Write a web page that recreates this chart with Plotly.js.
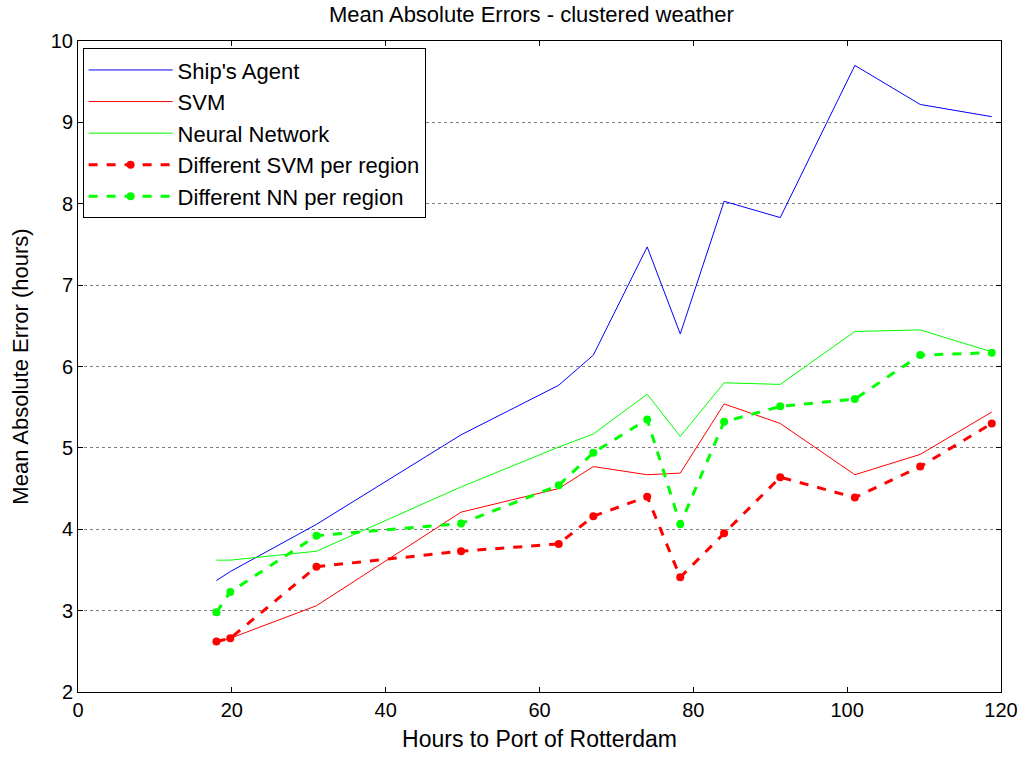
<!DOCTYPE html>
<html>
<head>
<meta charset="utf-8">
<script src="https://cdn.plot.ly/plotly-3.0.1.min.js"></script>
<style>html,body{margin:0;padding:0;background:#fff;}#chart{width:1020px;height:760px;}</style>
</head>
<body>
<div id="chart"></div>
<script>
const hours = [18.0, 19.8, 31.0, 49.8, 62.5, 67.0, 74.0, 78.3, 84.0, 91.3, 101.0, 109.5, 118.8];
const shipsAgent = [3.37, 3.48, 4.06, 5.16, 5.77, 6.14, 7.47, 6.40, 8.03, 7.83, 9.70, 9.22, 9.07];
const svm = [2.62, 2.66, 3.06, 4.21, 4.50, 4.77, 4.67, 4.69, 5.54, 5.30, 4.67, 4.92, 5.44];
const neuralNetwork = [3.62, 3.62, 3.73, 4.52, 5.01, 5.17, 5.66, 5.14, 5.80, 5.78, 6.43, 6.45, 6.18];
const svmPerRegion = [2.62, 2.66, 3.54, 3.73, 3.82, 4.16, 4.40, 3.41, 3.95, 4.64, 4.39, 4.77, 5.30];
const nnPerRegion = [2.98, 3.23, 3.92, 4.07, 4.54, 4.94, 5.35, 4.06, 5.32, 5.51, 5.60, 6.14, 6.17];
const seriesNames = ["Ship's Agent", "SVM", "Neural Network", "Different SVM per region", "Different NN per region"];
const xTicks = [0, 20, 40, 60, 80, 100, 120];
const yTicks = [2, 3, 4, 5, 6, 7, 8, 9, 10];

const FONT = 'Liberation Sans, Arial, sans-serif';
const traces = [
  {x: hours, y: shipsAgent, name: seriesNames[0], mode: 'lines', line: {color: '#0000ff', width: 1}},
  {x: hours, y: svm, name: seriesNames[1], mode: 'lines', line: {color: '#ff0000', width: 1}},
  {x: hours, y: neuralNetwork, name: seriesNames[2], mode: 'lines', line: {color: '#00ff00', width: 1}},
  {x: hours, y: svmPerRegion, name: seriesNames[3], mode: 'lines+markers', line: {color: '#ff0000', width: 3, dash: 'dash'}, marker: {color: '#ff0000', size: 8}},
  {x: hours, y: nnPerRegion, name: seriesNames[4], mode: 'lines+markers', line: {color: '#00ff00', width: 3, dash: 'dash'}, marker: {color: '#00ff00', size: 8}}
];

const axisCommon = {
  showline: true, linecolor: '#000', linewidth: 1, mirror: 'ticks',
  ticks: 'inside', ticklen: 5, tickcolor: '#000', zeroline: false,
  tickfont: {family: FONT, size: 20, color: '#000'}
};

const layout = {
  width: 1020, height: 760,
  margin: {l: 78, r: 19, t: 41, b: 68},
  paper_bgcolor: '#fff', plot_bgcolor: '#fff',
  font: {family: FONT, color: '#000'},
  title: {text: 'Mean Absolute Errors - clustered weather', font: {family: FONT, size: 22, color: '#000'}, x: 0.521, xanchor: 'center', y: 0.981, yanchor: 'middle'},
  xaxis: Object.assign({}, axisCommon, {
    range: [0, 120], tickvals: xTicks, showgrid: false,
    title: {text: 'Hours to Port of Rotterdam', font: {family: FONT, size: 23, color: '#000'}, standoff: 10}
  }),
  yaxis: Object.assign({}, axisCommon, {
    range: [2, 10], tickvals: yTicks, showgrid: true, gridcolor: '#808080', griddash: 'dot', gridwidth: 1,
    title: {text: 'Mean Absolute Error (hours)', font: {family: FONT, size: 22, color: '#000'}, standoff: 16}
  }),
  showlegend: true,
  legend: {
    x: 0.005, y: 0.989, xanchor: 'left', yanchor: 'top',
    bgcolor: '#fff', bordercolor: '#000', borderwidth: 1,
    font: {family: FONT, size: 22, color: '#000'},
    tracegroupgap: 0, itemwidth: 84
  }
};

Plotly.newPlot('chart', traces, layout, {displayModeBar: false, staticPlot: true});
</script>
</body>
</html>
